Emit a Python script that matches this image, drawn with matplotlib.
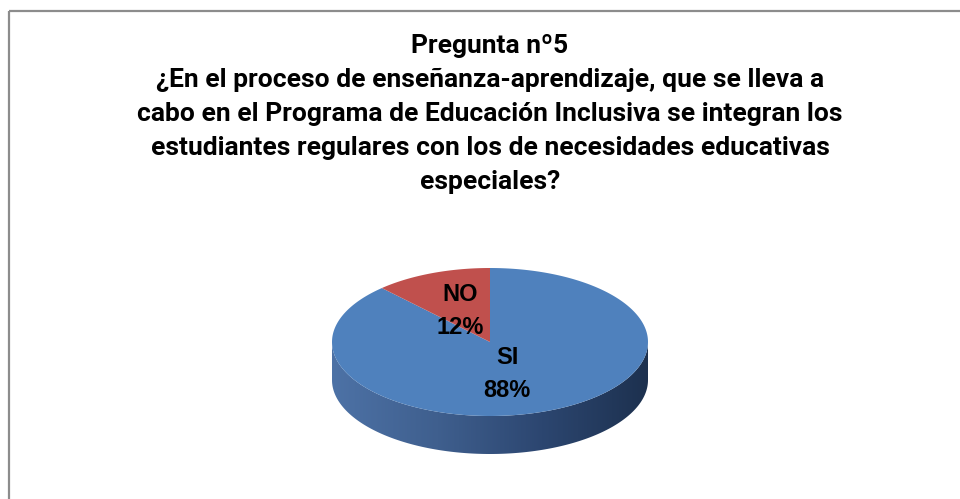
import numpy as np
import matplotlib.pyplot as plt
from matplotlib.patches import Polygon, Rectangle
from matplotlib.colors import LinearSegmentedColormap

W, H = 960, 499

labels = ["SI", "NO"]
values = [88, 12]
colors = ["#4f81bd", "#c0504d"]

title = ("Pregunta nº5\n"
         "¿En el proceso de enseñanza-aprendizaje, que se lleva a\n"
         "cabo en el Programa de Educación Inclusiva se integran los\n"
         "estudiantes regulares con los de necesidades educativas\n"
         "especiales?")

# pie geometry (pixels)
CX, CY = 490, 342
RX, RY = 158, 74
DEPTH = 38


def ell(t):
    return CX + RX * np.cos(t), CY - RY * np.sin(t)


fig = plt.figure(figsize=(W / 100, H / 100), dpi=100)
ax = fig.add_axes([0, 0, 1, 1])
ax.set_xlim(0, W)
ax.set_ylim(H, 0)
ax.axis("off")

ax.add_patch(Rectangle((8.5, 11), W, H, fill=False, ec="#8c8c8c", lw=1.6))

# side of the cylinder (front half)
t = np.linspace(np.pi, 2 * np.pi, 200)
x, y = ell(t)
side = np.vstack([np.column_stack([x, y]), np.column_stack([x[::-1], y[::-1] + DEPTH])])
side_patch = Polygon(side, closed=True, fc="none", ec="none")
ax.add_patch(side_patch)
cmap = LinearSegmentedColormap.from_list("side", ["#4d72a6", "#3f5f8e", "#2c4670", "#1d314f"])
grad = np.linspace(0, 1, 256).reshape(1, -1)
im = ax.imshow(grad, cmap=cmap, extent=[CX - RX, CX + RX, CY + RY + DEPTH, CY - 5],
               aspect="auto", zorder=2)
im.set_clip_path(side_patch)

# top face, slices counter-clockwise from 12 o'clock: NO first, SI fills the rest
fracs = np.array(values) / sum(values)
starts = {"NO": 90.0, "SI": 90.0 + 360 * fracs[1]}
spans = {"SI": 360 * fracs[0], "NO": 360 * fracs[1]}
for lab, col in zip(labels, colors):
    a = np.radians(np.linspace(starts[lab], starts[lab] + spans[lab], 300))
    px, py = ell(a)
    pts = np.vstack([[CX, CY], np.column_stack([px, py])])
    ax.add_patch(Polygon(pts, closed=True, fc=col, ec="none", zorder=3))

lab_font = dict(family=["Liberation Sans", "DejaVu Sans"], fontweight="bold", fontsize=17,
                color="black", ha="center", va="center", zorder=4, linespacing=1.6)
ax.text(460, 311, "NO\n12%", **lab_font)
ax.text(507, 374, "SI\n88%", **lab_font)

fig.text(490 / W, 1 - 34 / H, title, ha="center", va="top",
         family=["Roboto", "Liberation Sans", "DejaVu Sans"],
         fontweight="bold", fontsize=19, linespacing=1.52)

fig.savefig("out.png", dpi=100)
